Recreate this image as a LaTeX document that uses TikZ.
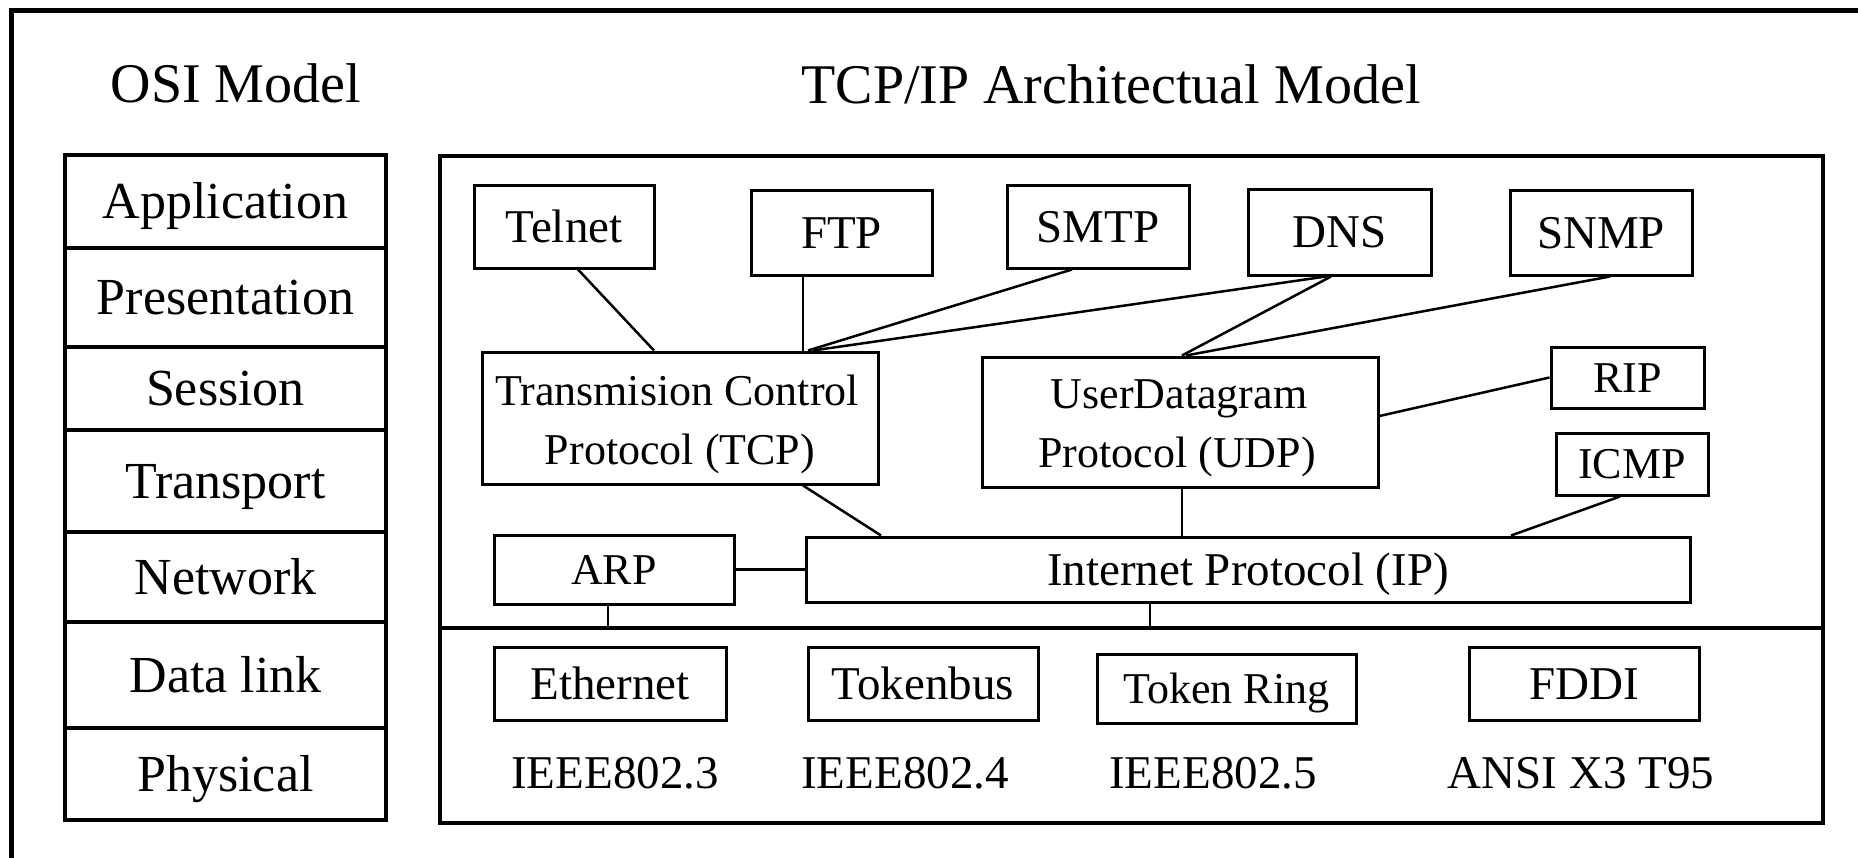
\documentclass[tikz,border=0pt]{standalone}
\usepackage{fontspec}
\setmainfont{Liberation Serif}
\newcommand{\fsz}[1]{\fontsize{#1}{#1}\selectfont}
\begin{document}
\begin{tikzpicture}[x=1pt,y=-1pt,
  box/.style={draw, line width=3pt, inner sep=1pt, text height=31pt, text depth=0pt, font=\fsz{47}},
  smallbox/.style={box, font=\fsz{44}, text height=29pt},
  bigbox/.style={draw, line width=3pt, inner sep=0pt},
  osicell/.style={draw, line width=3.5pt, inner sep=1pt, minimum width=321pt, text height=34pt, text depth=0pt, font=\fsz{52}},
  conn/.style={line width=2.5pt},
  ttl/.style={font=\fsz{56}, anchor=base, inner sep=0pt},
  two/.style={font=\fsz{44}, anchor=base, inner sep=0pt},
  lbl/.style={font=\fsz{47}, anchor=base, inner sep=0pt}
]
\useasboundingbox (0,0) rectangle (1858,857);
\fill[white] (0,0) rectangle (1858,857);

% outer frame (only top and left visible)
\draw[line width=5pt] (11.5,880) -- (11.5,10.5) -- (1880,10.5);

% titles
\node[ttl] (osititle) at (236,102) {OSI Model};
\node[ttl] (tcptitle) at (1111,103) {TCP/IP Architectual Model};

% OSI column
\node[osicell, minimum height=93pt] (app) at (225.5,201.5) {Application};
\node[osicell, minimum height=99pt] (pres) at (225.5,297.5) {Presentation};
\node[osicell, minimum height=83pt] (sess) at (225.5,388.5) {Session};
\node[osicell, minimum height=102pt] (trans) at (225.5,481) {Transport};
\node[osicell, minimum height=90pt] (net) at (225.5,577) {Network};
\node[osicell, minimum height=106pt] (dlink) at (225.5,675) {Data link};
\node[osicell, minimum height=92pt] (phys) at (225.5,774) {Physical};

% TCP/IP frame
\node[draw, line width=3.5pt, minimum width=1383pt, minimum height=667pt, inner sep=0pt] (tcpip) at (1131.5,489.5) {};
\coordinate (busl) at (440,628);
\coordinate (busr) at (1823,628);
\draw[line width=4pt] (busl) -- (busr);

% application protocols
\node[box, minimum width=180pt, minimum height=83pt] (telnet) at (564,226.5) {Telnet};
\node[box, minimum width=181pt, minimum height=85pt] (ftp) at (841.5,232.5) {FTP};
\node[box, minimum width=182pt, minimum height=83pt] (smtp) at (1098,226.5) {SMTP};
\node[box, minimum width=183pt, minimum height=86pt] (dns) at (1339.5,232) {DNS};
\node[box, minimum width=182pt, minimum height=85pt] (snmp) at (1601,232.5) {SNMP};

% transport
\node[bigbox, minimum width=396pt, minimum height=132pt] (tcp) at (680,418) {};
\node[two] (tcpa) at (677,405) {Transmision Control};
\node[two] (tcpb) at (680,464) {Protocol (TCP)};
\node[bigbox, minimum width=396pt, minimum height=130pt] (udp) at (1180,422) {};
\node[two] (udpa) at (1179,408) {UserDatagram};
\node[two] (udpb) at (1177,467) {Protocol (UDP)};

\node[smallbox, minimum width=153pt, minimum height=61pt] (rip) at (1627.5,377.5) {RIP};
\node[smallbox, minimum width=152pt, minimum height=62pt] (icmp) at (1632,464) {ICMP};

% network
\node[smallbox, minimum width=240pt, minimum height=69pt] (arp) at (614,569.5) {ARP};
\node[box, minimum width=884pt, minimum height=65pt] (ip) at (1248,569.5) {Internet Protocol (IP)};

% link layer
\node[box, minimum width=232pt, minimum height=73pt] (eth) at (610,683.5) {Ethernet};
\node[box, minimum width=230pt, minimum height=73pt] (tbus) at (923,683.5) {Tokenbus};
\node[smallbox, minimum width=259pt, minimum height=69pt] (tring) at (1226.5,688.5) {Token Ring};
\node[box, minimum width=230pt, minimum height=73pt] (fddi) at (1584,683.5) {FDDI};

\node[lbl] (ieee3) at (615,788) {IEEE802.3};
\node[lbl] (ieee4) at (905,788) {IEEE802.4};
\node[lbl] (ieee5) at (1213,788) {IEEE802.5};
\node[lbl] (ansi) at (1581,788) {ANSI X3 T95};

% connectors
\draw[conn] ([xshift=14pt]telnet.south) -- ([xshift=-26pt]tcp.north);
\draw[conn] ([xshift=-38.5pt]ftp.south) -- ([xshift=123pt]tcp.north);
\draw[conn] ([xshift=-26pt]smtp.south) -- ([xshift=128pt]tcp.north);
\draw[conn] ([xshift=-13.5pt]dns.south) -- ([xshift=133pt]tcp.north);
\draw[conn] ([xshift=-8.5pt]dns.south) -- ([xshift=2pt]udp.north);
\draw[conn] ([xshift=9pt]snmp.south) -- ([xshift=6pt]udp.north);
\draw[conn] ([yshift=6pt]udp.east) -- (rip.west);
\draw[conn] ([xshift=2pt]udp.south) -- ([xshift=-66pt]ip.north);
\draw[conn] ([xshift=123pt]tcp.south) -- ([xshift=-367pt]ip.north);
\draw[conn] ([xshift=-12pt]icmp.south) -- ([xshift=263pt]ip.north);
\draw[conn] (arp.east) -- (ip.west);
\coordinate (arpbus) at (608,628);
\coordinate (ipbus) at (1150,628);
\draw[conn] ([xshift=-6pt]arp.south) -- (arpbus);
\draw[conn] ([xshift=-98pt]ip.south) -- (ipbus);
\end{tikzpicture}
\end{document}
